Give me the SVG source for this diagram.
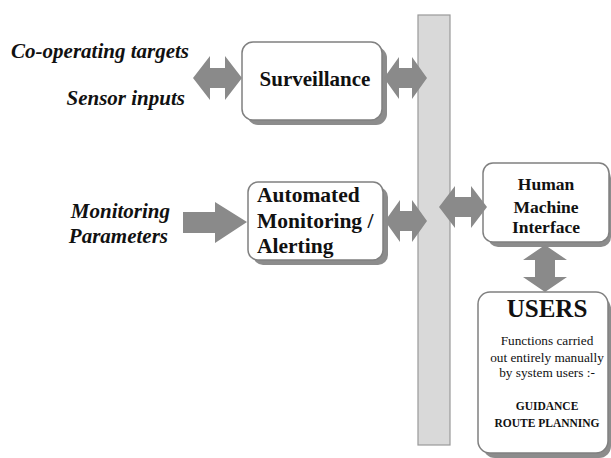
<svg xmlns="http://www.w3.org/2000/svg" width="611" height="458" viewBox="0 0 611 458">
<style>
.box{fill:#fff;stroke:#808080;stroke-width:1.5}
.shd{fill:#8c8c8c}
.arr{fill:#8a8a8a}
.t{font-family:'Liberation Serif','Times New Roman','DejaVu Serif',serif;font-weight:bold;fill:#111}
.lbl{font-family:'Liberation Serif','Times New Roman','DejaVu Serif',serif;font-weight:bold;font-style:italic;font-size:21px;fill:#111;text-anchor:end}
.u{font-family:'Liberation Serif','Times New Roman','DejaVu Serif',serif;fill:#111;text-anchor:middle}
</style>
<rect width="611" height="458" fill="#fff"/>
<g id="bus"><rect x="418" y="15" width="32" height="430" fill="#d9d9d9" stroke="#999" stroke-width="1.2"/></g>
<g id="labels">
<text class="lbl" x="189" y="58">Co-operating targets</text>
<text class="lbl" x="185" y="105">Sensor inputs</text>
<text class="lbl" x="170" y="218">Monitoring</text>
<text class="lbl" x="168" y="243">Parameters</text>
</g>
<g id="surveillance">
<rect class="shd" x="247" y="47" width="140" height="78" rx="11"/>
<rect class="box" x="242" y="42" width="140" height="78" rx="11"/>
<text class="t" x="315" y="86" font-size="21" text-anchor="middle">Surveillance</text>
</g>
<g id="automated">
<rect class="shd" x="253" y="187" width="135" height="78" rx="10"/>
<rect class="box" x="248" y="182" width="135" height="78" rx="10"/>
<text class="t" x="257" y="202" font-size="21.5">Automated</text>
<text class="t" x="257" y="228" font-size="21.5">Monitoring /</text>
<text class="t" x="257" y="253" font-size="21.5">Alerting</text>
</g>
<g id="hmi">
<rect class="shd" x="488" y="168" width="123" height="79" rx="10"/>
<rect class="box" x="483" y="163" width="126" height="79" rx="10"/>
<text class="t" x="546" y="190" font-size="17.5" text-anchor="middle">Human</text>
<text class="t" x="546" y="213" font-size="17.5" text-anchor="middle">Machine</text>
<text class="t" x="546" y="233" font-size="17.5" text-anchor="middle">Interface</text>
</g>
<g id="users">
<rect class="shd" x="483" y="297" width="128" height="161" rx="12"/>
<rect class="box" x="478" y="292" width="130" height="161" rx="12"/>
<text class="u" x="547" y="317" font-size="25" font-weight="bold">USERS</text>
<text class="u" x="547" y="345" font-size="13.3">Functions carried</text>
<text class="u" x="547" y="362" font-size="13.3">out entirely manually</text>
<text class="u" x="547" y="377" font-size="13.3">by system users :-</text>
<text class="u" x="547" y="410" font-size="11.5" font-weight="bold">GUIDANCE</text>
<text class="u" x="547" y="427" font-size="11.5" font-weight="bold">ROUTE PLANNING</text>
</g>
<g id="connectors">
<path class="arr" d="M193,78 L210,56 L210,68 L225,68 L225,56 L242,78 L225,100 L225,88 L210,88 L210,100 Z"/>
<path class="arr" d="M384,78 L399,57 L399,68 L412,68 L412,57 L427,78 L412,99 L412,88 L399,88 L399,99 Z"/>
<path class="arr" d="M385,221 L400,200 L400,211 L412,211 L412,200 L427,221 L412,242 L412,231 L400,231 L400,242 Z"/>
<path class="arr" d="M183,212 L215,212 L215,202 L247,222 L215,243 L215,233 L183,233 Z"/>
<path class="arr" d="M439,207 L455,186 L455,197 L471,197 L471,186 L487,207 L471,228 L471,217 L455,217 L455,228 Z"/>
<path class="arr" d="M545,245 L567,260 L555,260 L555,277 L567,277 L545,292 L523,277 L535,277 L535,260 L523,260 Z"/>
</g>
</svg>
